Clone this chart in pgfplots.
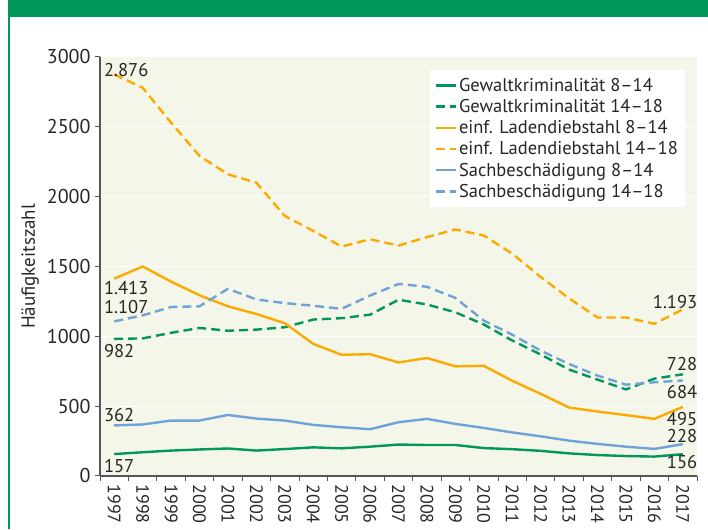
\documentclass[border=0pt]{standalone}
\usepackage{pgfplots}
\pgfplotsset{compat=1.18}
\usepackage{fontspec}
\setmainfont{PT Sans}

\definecolor{gkgreen}{RGB}{0,150,92}
\definecolor{ldorange}{RGB}{250,170,0}
\definecolor{sbblue}{RGB}{112,162,215}
\definecolor{plotbg}{RGB}{244,246,233}
\definecolor{axisgray}{RGB}{85,85,85}

\begin{document}
\begin{tikzpicture}[x=1pt,y=1pt]
\path[use as bounding box] (0,0) rectangle (708,529);
\fill[gkgreen] (8,512) rectangle (708,529);
\draw[gkgreen, line width=1.5pt] (9,0) -- (9,512);
\begin{axis}[
  at={(100pt,53pt)}, anchor=south west,
  scale only axis, width=597pt, height=419pt,
  xmin=1996.5, xmax=2017.5, ymin=0, ymax=3000,
  axis lines=left,
  axis line style={-, axisgray, line width=1.2pt},
  axis background/.style={fill=plotbg},
  ytick={0,500,...,3000},
  ymajorgrids, grid style={white, line width=1pt},
  xtick={1997,...,2017},
  minor xtick={1996.5,1997.5,...,2017.5},
  major x tick style={draw=none},
  tick align=outside,
  major tick length=5pt, minor tick length=5pt,
  tick style={axisgray, line width=1pt},
  /pgf/number format/1000 sep={},
  /pgf/number format/assume math mode=true,
  xticklabel style={rotate=-90, anchor=west, font=\fontsize{18}{18}\selectfont, text=black!85},
  yticklabel style={font=\fontsize{20}{20}\selectfont, text=black!85, xshift=-1pt},
  ylabel={Häufigkeitszahl},
  ylabel style={at={(axis description cs:-0.117,0.5)}, anchor=center, font=\fontsize{19}{19}\selectfont, text=black!85},
  legend style={at={(axis description cs:0.98,0.969)}, anchor=north east,
    draw=none, fill=white, font=\fontsize{18.5}{21}\selectfont, text=black!85,
    inner xsep=5pt, inner ysep=6pt, row sep=2.5pt},
  legend cell align=left,
  legend image code/.code={\draw[#1] (0pt,0pt) -- (20pt,0pt);},
  every axis plot/.append style={line width=2.4pt, line join=round},
]
% Gewaltkriminalitaet 8-14
\addplot[gkgreen] coordinates {
(1997,157) (1998,170) (1999,182) (2000,190) (2001,197) (2002,182) (2003,193)
(2004,205) (2005,198) (2006,210) (2007,225) (2008,222) (2009,222) (2010,200)
(2011,192) (2012,180) (2013,162) (2014,150) (2015,143) (2016,139) (2017,156)};
\addlegendentry{Gewaltkriminalität 8–14}
% Gewaltkriminalitaet 14-18
\addplot[gkgreen, dash pattern=on 9pt off 5pt] coordinates {
(1997,982) (1998,985) (1999,1025) (2000,1060) (2001,1040) (2002,1048) (2003,1065)
(2004,1120) (2005,1130) (2006,1155) (2007,1262) (2008,1228) (2009,1172) (2010,1085)
(2011,970) (2012,870) (2013,762) (2014,690) (2015,620) (2016,697) (2017,728)};
\addlegendentry{Gewaltkriminalität 14–18}
% einf. Ladendiebstahl 8-14
\addplot[ldorange] coordinates {
(1997,1413) (1998,1500) (1999,1392) (2000,1294) (2001,1215) (2002,1160) (2003,1094)
(2004,946) (2005,868) (2006,872) (2007,813) (2008,845) (2009,785) (2010,789)
(2011,682) (2012,588) (2013,490) (2014,462) (2015,436) (2016,409) (2017,495)};
\addlegendentry{einf. Ladendiebstahl 8–14}
% einf. Ladendiebstahl 14-18
\addplot[ldorange, dash pattern=on 9pt off 5pt] coordinates {
(1997,2876) (1998,2780) (1999,2530) (2000,2292) (2001,2160) (2002,2100) (2003,1862)
(2004,1755) (2005,1643) (2006,1695) (2007,1650) (2008,1710) (2009,1765) (2010,1722)
(2011,1592) (2012,1425) (2013,1272) (2014,1135) (2015,1135) (2016,1090) (2017,1193)};
\addlegendentry{einf. Ladendiebstahl 14–18}
% Sachbeschaedigung 8-14
\addplot[sbblue] coordinates {
(1997,362) (1998,369) (1999,397) (2000,397) (2001,437) (2002,411) (2003,397)
(2004,366) (2005,349) (2006,335) (2007,385) (2008,409) (2009,373) (2010,344)
(2011,312) (2012,284) (2013,253) (2014,230) (2015,210) (2016,194) (2017,228)};
\addlegendentry{Sachbeschädigung 8–14}
% Sachbeschaedigung 14-18
\addplot[sbblue, dash pattern=on 9pt off 5pt] coordinates {
(1997,1107) (1998,1150) (1999,1210) (2000,1215) (2001,1340) (2002,1264) (2003,1238)
(2004,1219) (2005,1197) (2006,1292) (2007,1375) (2008,1355) (2009,1275) (2010,1113)
(2011,1012) (2012,898) (2013,802) (2014,719) (2015,654) (2016,671) (2017,684)};
\addlegendentry{Sachbeschädigung 14–18}

\begin{scope}[every node/.style={font=\fontsize{18.5}{18.5}\selectfont, text=black!85, inner sep=1pt}]
\node[anchor=west] at (axis cs:1996.6,2906) {2.876};
\node[anchor=west] at (axis cs:1996.6,1349) {1.413};
\node[anchor=west] at (axis cs:1996.6,1210) {1.107};
\node[anchor=west] at (axis cs:1996.6,893) {982};
\node[anchor=west] at (axis cs:1996.6,435) {362};
\node[anchor=west] at (axis cs:1996.6,70) {157};
\node[anchor=east] at (axis cs:2017.55,1246) {1.193};
\node[anchor=east] at (axis cs:2017.55,802) {728};
\node[anchor=east] at (axis cs:2017.55,601) {684};
\node[anchor=east] at (axis cs:2017.55,409) {495};
\node[anchor=east] at (axis cs:2017.55,286) {228};
\node[anchor=east] at (axis cs:2017.55,100) {156};
\end{scope}
\end{axis}
\end{tikzpicture}
\end{document}
